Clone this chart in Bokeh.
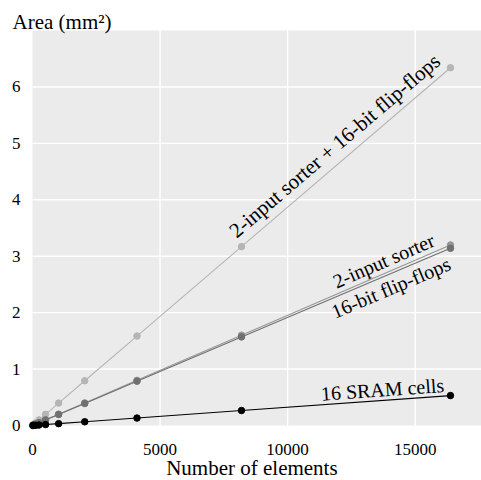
import numpy as np
from bokeh.plotting import figure
from bokeh.models import Range1d, BoxAnnotation
from bokeh.embed import file_html
from bokeh.resources import INLINE
from bokeh.core.properties import value

# ---- data ----
n_elements = [16, 32, 64, 128, 256, 512, 1024, 2048, 4096, 8192, 16384]
sorter_plus_ff = [0.0062, 0.0124, 0.0248, 0.0495, 0.099, 0.198, 0.397, 0.793, 1.585, 3.17, 6.34]
sorter = [0.0031, 0.0063, 0.0125, 0.025, 0.050, 0.100, 0.200, 0.400, 0.800, 1.60, 3.20]
flipflops = [0.0031, 0.0061, 0.0123, 0.0245, 0.049, 0.098, 0.196, 0.390, 0.785, 1.57, 3.14]
sram = [0.0005, 0.0010, 0.0021, 0.0041, 0.0083, 0.0166, 0.033, 0.066, 0.132, 0.265, 0.53]

series_names = ["2-input sorter + 16-bit flip-flops", "2-input sorter", "16-bit flip-flops", "16 SRAM cells"]
x_ticks = [0, 5000, 10000, 15000]
y_ticks = [0, 1, 2, 3, 4, 5, 6]
x_title = "Number of elements"
y_title = "Area (mm²)"

# ---- styling / geometry ----
FONT = "'Liberation Serif', 'DejaVu Serif', serif"
W, H = 481, 480
LEFT, TOP, BOTTOM = 32, 30, 55          # margins (px) around the grey panel
XMAX, YMAX = 17600, 7                   # panel extent in data units
TITLE_X = 8600
kx = (W - LEFT) / XMAX                  # px per x unit
ky = (H - TOP - BOTTOM) / YMAX          # px per y unit
colors = ["#b5b5b5", "#979797", "#707070", "#000000"]
# label placement: anchor x (data), side, gap px, font size
label_pos = [(12250, "above", 4, "21px"), (13950, "above", 1, "20px"),
             (13850, "below", 2, "20px"), (13750, "above", 0, "20px")]

p = figure(frame_width=W, frame_height=H, title=None,
           x_range=Range1d(-LEFT / kx, XMAX), y_range=Range1d(-BOTTOM / ky, YMAX + TOP / ky),
           output_backend="svg", toolbar_location=None,
           min_border=0, background_fill_color="white", border_fill_color="white",
           outline_line_color=None)
p.xaxis.visible = False
p.yaxis.visible = False
p.xgrid.visible = False
p.ygrid.visible = False

# grey panel
p.add_layout(BoxAnnotation(left=0, bottom=0, top=YMAX, fill_color="#ebebeb", fill_alpha=1.0,
                           line_color=None, level="underlay"))

# white grid lines
gx = x_ticks[1:]
gy = y_ticks[1:]
p.segment(x0=gx, y0=[0] * len(gx), x1=gx, y1=[YMAX] * len(gx), line_color="white", line_width=1.4)
p.segment(x0=[0] * len(gy), y0=gy, x1=[XMAX] * len(gy), y1=gy, line_color="white", line_width=1.4)

all_series = [sorter_plus_ff, sorter, flipflops, sram]
for ys, c in zip(all_series, colors):
    p.line(n_elements, ys, line_color=c, line_width=1.1)
    p.scatter(n_elements, ys, size=6.5, fill_color=c, line_color=c)

for name, ys, (axx, side, gap, fs) in zip(series_names, all_series, label_pos):
    ay = float(np.interp(axx, n_elements, ys))
    theta = float(np.arctan(((ys[-1] - ys[-2]) * ky) / ((n_elements[-1] - n_elements[-2]) * kx)))
    if side == "above":
        xo, yo, base = -gap * np.sin(theta), -gap * np.cos(theta), "bottom"
    else:
        xo, yo, base = gap * np.sin(theta), gap * np.cos(theta), "top"
    p.text(x=[axx], y=[ay], text=[name], angle=theta, text_align="center",
           text_baseline=base, x_offset=xo, y_offset=yo,
           text_font=value(FONT), text_font_size=fs, text_color="black")

# tick labels
p.text(x=[0] * len(y_ticks), y=y_ticks, text=[str(v) for v in y_ticks], x_offset=-12,
       text_align="right", text_baseline="middle",
       text_font=value(FONT), text_font_size="17px", text_color="black")
p.text(x=x_ticks, y=[0] * len(x_ticks), text=[str(v) for v in x_ticks], y_offset=24,
       text_align="center", text_baseline="alphabetic",
       text_font=value(FONT), text_font_size="17px", text_color="black")
# axis titles
p.text(x=[TITLE_X], y=[0], text=[x_title], y_offset=42,
       text_align="center", text_baseline="alphabetic",
       text_font=value(FONT), text_font_size="21px", text_color="black")
p.text(x=[0], y=[YMAX], text=[y_title], x_offset=-20, y_offset=-9,
       text_align="left", text_baseline="alphabetic",
       text_font=value(FONT), text_font_size="21px", text_color="black")

open("out.html", "w").write(file_html(p, INLINE))
